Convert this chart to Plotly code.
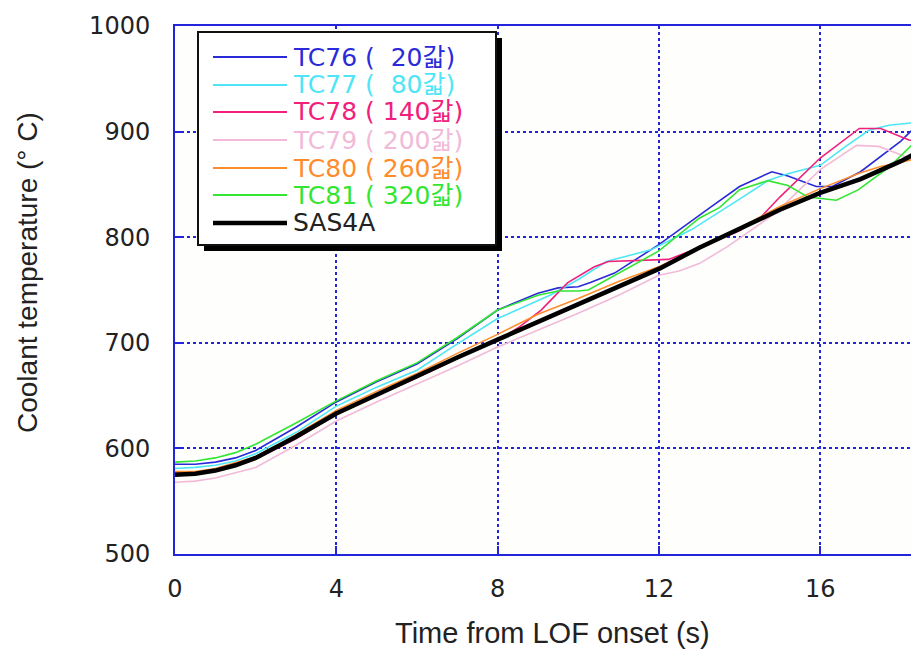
import plotly.graph_objects as go

# ---------------- data ----------------
t_tc76 = [0, 0.5, 1, 1.5, 2, 3, 4, 5, 6, 7, 8, 9, 9.5, 10, 10.3, 10.9, 12, 13, 13.3, 14, 14.8, 15.2, 15.9, 16.3, 17, 18, 18.45]
T_tc76 = [585, 585, 587, 591, 598, 620, 644, 663, 680, 704, 731, 747, 752, 753, 757, 766, 793, 821, 829, 848, 862, 858, 848, 848, 862, 891, 908]

t_tc77 = [0, 0.5, 1, 1.5, 2, 3, 4, 5, 6, 6.84, 8, 9.3, 10, 10.7, 11, 11.8, 12.8, 13.47, 14, 14.72, 15.2, 16, 16.6, 17.2, 17.7, 18.45]
T_tc77 = [581, 582, 584, 588, 595, 615, 640, 658, 674, 695, 723, 745, 760, 777, 780, 788, 807, 823, 836, 854, 860, 868, 885, 901, 906, 909]

t_tc78 = [0, 0.5, 1, 2, 3, 4, 5, 6, 7, 8, 8.5, 9.08, 9.74, 10.4, 10.75, 12.24, 13, 14, 14.5, 15, 16, 16.97, 17.5, 18.2, 18.45]
T_tc78 = [577, 577, 579, 590, 609, 632, 650, 667, 685, 702, 714, 731, 757, 772, 777, 779, 790, 806, 818, 838, 875, 903, 903, 892, 891]

t_tc79 = [0, 0.5, 1, 2, 3, 4, 5, 6, 7, 8, 9, 10, 11, 12, 12.5, 13, 13.7, 14.9, 16, 16.9, 17.45, 18, 18.45]
T_tc79 = [568, 569, 572, 582, 603, 626, 644, 661, 678, 696, 712, 728, 745, 764, 768, 775, 791, 823, 864, 887, 886, 878, 870]

t_tc80 = [0, 0.5, 1, 2, 3, 4, 5, 6, 7, 8, 9, 10, 11, 12, 13, 14, 15, 16, 17, 17.5, 18, 18.45]
T_tc80 = [578, 578, 581, 592, 613, 636, 654, 671, 690, 708, 727, 742, 758, 772, 790, 809, 829, 846, 861, 867, 871, 875]

t_tc81 = [0, 0.5, 1, 1.5, 2, 3, 4, 5, 6, 7, 8, 9, 9.5, 10, 10.25, 11, 12, 13, 13.5, 14, 14.7, 15.2, 15.7, 16.4, 16.95, 17.7, 18.45]
T_tc81 = [587, 588, 591, 596, 604, 624, 645, 664, 681, 705, 731, 745, 749, 749, 750, 766, 787, 818, 828, 845, 853.5, 849, 838, 835, 845, 866, 894]

t_sas = [0, 0.5, 1, 1.5, 2, 3, 4, 5, 6, 7, 8, 9, 10, 11, 12, 13, 14, 15, 16, 17, 18, 18.45]
T_sas = [575, 576, 579, 584, 591, 611, 633, 651, 668, 686, 703, 720, 736, 753, 770, 790, 808, 826, 842, 855, 872, 881]

series_names = ["TC76 (  20갋)", "TC77 (  80갋)", "TC78 ( 140갋)", "TC79 ( 200갋)",
                "TC80 ( 260갋)", "TC81 ( 320갋)", "SAS4A"]
series_colors = ["#2a2ad8", "#4ee6f6", "#f0207c", "#f2bad8", "#ff8c2c", "#32e632", "#000000"]
series_widths = [1.6, 1.6, 1.6, 1.6, 1.6, 1.6, 4.5]
series_t = [t_tc76, t_tc77, t_tc78, t_tc79, t_tc80, t_tc81, t_sas]
series_T = [T_tc76, T_tc77, T_tc78, T_tc79, T_tc80, T_tc81, T_sas]

x_ticks = [0, 4, 8, 12, 16]
y_ticks = [500, 600, 700, 800, 900, 1000]
x_title = "Time from LOF onset (s)"
y_title = "Coolant temperature (° C)"

# ---------------- layout geometry ----------------
# the page body adds an 8px offset; figure sized so that it ends at the window edge
OFF = 8
W, H = 919 - OFF, 650 - OFF
SL, SR, ST, SB = 175, 919, 26, 554          # plot area in window pixels
L, T = SL - OFF, ST - OFF
R = W - (SR - OFF)
B = H - (SB - OFF)
PW, PH = SR - SL, SB - ST


def px(x):
    return (x - SL) / PW


def py(y):
    return (SB - y) / PH


AX = "#2424dc"

fig = go.Figure()
for t, v, n, c, w in zip(series_t, series_T, series_names, series_colors, series_widths):
    fig.add_trace(go.Scatter(x=t, y=v, mode="lines", name=n, showlegend=False,
                             line=dict(color=c, width=w)))

# manual legend (box with drop shadow)
shapes = [
    dict(type="rect", xref="paper", yref="paper", x0=px(204), x1=px(502), y0=py(251), y1=py(38),
         fillcolor="black", line=dict(width=0), layer="above"),
    dict(type="rect", xref="paper", yref="paper", x0=px(198), x1=px(496), y0=py(245), y1=py(32),
         fillcolor="white", line=dict(color="#111", width=2), layer="above"),
]
annotations = []
row_y = [57, 85, 112, 140, 168, 195, 223]
for n, c, w, yy in zip(series_names, series_colors, series_widths, row_y):
    shapes.append(dict(type="line", xref="paper", yref="paper", x0=px(213), x1=px(287),
                       y0=py(yy), y1=py(yy), line=dict(color=c, width=max(w, 2)), layer="above"))
    annotations.append(dict(xref="paper", yref="paper", x=px(291), y=py(yy), xanchor="left",
                            yanchor="middle", showarrow=False,
                            text=n.replace(" ", "\u00a0"),
                            font=dict(family="DejaVu Sans, Noto Sans CJK KR", size=25,
                                      color=c if c != "#000000" else "#222")))

annotations.append(dict(xref="paper", yref="paper", x=px(552), y=py(633), xanchor="center",
                        yanchor="middle", showarrow=False, text=x_title,
                        font=dict(family="Liberation Sans, Arial", size=29, color="#222")))
annotations.append(dict(xref="paper", yref="paper", x=px(27), y=py(273), xanchor="center",
                        yanchor="middle", showarrow=False, text=y_title, textangle=-90,
                        font=dict(family="Liberation Sans, Arial", size=28, color="#222")))

fig.update_layout(
    width=W, height=H,
    margin=dict(l=L, r=R, t=T, b=B, pad=0),
    paper_bgcolor="white", plot_bgcolor="#fefefc",
    shapes=shapes, annotations=annotations,
    showlegend=False,
)
fig.update_xaxes(range=[0, 18.45], tickvals=x_ticks, showline=True, linecolor=AX, linewidth=2,
                 mirror=True, showgrid=True, gridcolor=AX, griddash="dot", gridwidth=2,
                 ticks="inside", ticklen=8, tickwidth=2, tickcolor=AX, zeroline=False,
                 ticklabelstandoff=12,
                 tickfont=dict(family="DejaVu Sans", size=24, color="#222"))
fig.update_yaxes(range=[500, 1000], tickvals=y_ticks, showline=True, linecolor=AX, linewidth=2,
                 mirror=False, showgrid=True, gridcolor=AX, griddash="dot", gridwidth=2,
                 ticks="inside", ticklen=8, tickwidth=2, tickcolor=AX, zeroline=False,
                 ticklabelstandoff=18,
                 tickfont=dict(family="DejaVu Sans", size=24, color="#222"))

fig.write_html("out.html")
